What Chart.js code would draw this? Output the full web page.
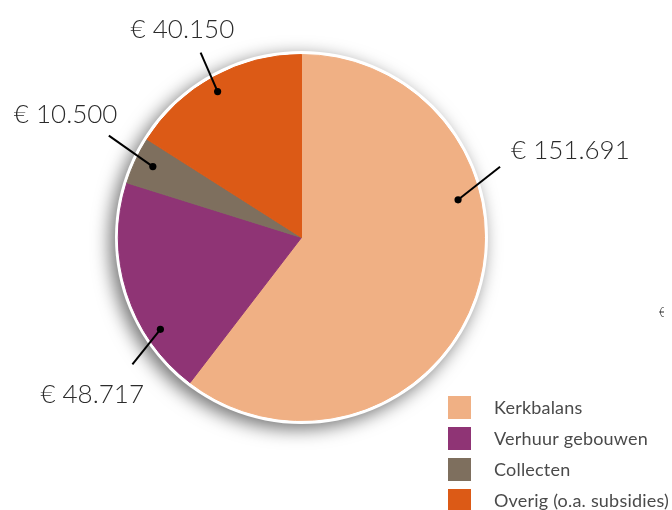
<!DOCTYPE html>
<html>
<head>
<meta charset="utf-8">
<script src="https://cdn.jsdelivr.net/npm/chart.js@4"></script>
<style>
  html, body { margin: 0; padding: 0; background: #ffffff; }
  #wrap { position: relative; width: 672px; height: 510px; }
</style>
</head>
<body>
<div id="wrap"><canvas id="c" width="672" height="510"></canvas></div>
<script>
const categories = ['Kerkbalans', 'Verhuur gebouwen', 'Collecten', 'Overig (o.a. subsidies)'];
const values = [151691, 48717, 10500, 40150];
const colors = ['#F0B084', '#8F3475', '#7E6F5E', '#DC5A16'];

function euro(v) {
  return '€ ' + String(v).replace(/\B(?=(\d{3})+(?!\d))/g, '.');
}

// layout of callouts: angle shift from slice middle (deg), radius fraction of dot,
// leader line vector from dot, text left offset / baseline offset from line end
const callouts = [
  { shift: -32.3, rf: 0.88, lx: 42, ly: -33, tx: 11, ty: -8 },
  { shift: -15.5, rf: 0.92, lx: -28, ly: 35, tx: -92, ty: 39 },
  { shift: 0.6, rf: 0.90, lx: -44, ly: -31, tx: -95, ty: -13 },
  { shift: -1.1, rf: 0.92, lx: -17, ly: -39, tx: -70, ty: -15 }
];

const ringPlugin = {
  id: 'ring',
  beforeDatasetsDraw(chart) {
    const arc = chart.getDatasetMeta(0).data[0];
    if (!arc) return;
    const ctx = chart.ctx;
    ctx.save();
    ctx.shadowColor = 'rgba(0,0,0,0.55)';
    ctx.shadowBlur = 18;
    ctx.shadowOffsetX = -5;
    ctx.shadowOffsetY = 5;
    ctx.fillStyle = '#ffffff';
    ctx.beginPath();
    ctx.arc(arc.x, arc.y, arc.outerRadius + 3.5, 0, Math.PI * 2);
    ctx.fill();
    ctx.restore();
  }
};

const calloutPlugin = {
  id: 'callouts',
  afterDatasetsDraw(chart) {
    const ctx = chart.ctx;
    const meta = chart.getDatasetMeta(0);
    const data = chart.data.datasets[0].data;
    ctx.save();
    meta.data.forEach((arc, i) => {
      const c = callouts[i];
      const mid = (arc.startAngle + arc.endAngle) / 2 + c.shift * Math.PI / 180;
      const dx = arc.x + Math.cos(mid) * arc.outerRadius * c.rf;
      const dy = arc.y + Math.sin(mid) * arc.outerRadius * c.rf;
      const ex = dx + c.lx, ey = dy + c.ly;
      ctx.strokeStyle = '#000000';
      ctx.lineWidth = 2;
      ctx.beginPath();
      ctx.moveTo(dx, dy);
      ctx.lineTo(ex, ey);
      ctx.stroke();
      ctx.fillStyle = '#000000';
      ctx.beginPath();
      ctx.arc(dx, dy, 3.6, 0, Math.PI * 2);
      ctx.fill();
      ctx.fillStyle = '#2b2b2b';
      ctx.font = '300 26px Lato, "Open Sans", sans-serif';
      ctx.textAlign = 'left';
      ctx.textBaseline = 'alphabetic';
      ctx.fillText(euro(data[i]), ex + c.tx, ey + c.ty);
    });
    // legend
    const labels = chart.data.labels;
    const bg = chart.data.datasets[0].backgroundColor;
    labels.forEach((lab, i) => {
      const y = 396 + i * 31;
      ctx.fillStyle = bg[i];
      ctx.fillRect(448, y, 23, 23);
      ctx.fillStyle = '#4a4a4a';
      ctx.font = '400 18px Lato, "Open Sans", sans-serif';
      ctx.letterSpacing = '0.2px';
      ctx.textBaseline = 'middle';
      ctx.fillText(lab, 494, y + 12);
    });
    ctx.letterSpacing = '0px';
    // fragment of a neighbouring label at the right edge
    ctx.beginPath();
    ctx.rect(0, 0, 664, 510);
    ctx.clip();
    ctx.fillStyle = '#2b2b2b';
    ctx.font = '300 13px Lato, sans-serif';
    ctx.textBaseline = 'middle';
    ctx.fillText('€', 659, 313);
    ctx.restore();
  }
};

new Chart(document.getElementById('c'), {
  type: 'pie',
  data: {
    labels: categories,
    datasets: [{
      data: values,
      backgroundColor: colors,
      borderColor: colors,
      borderWidth: 1,
      radius: 183
    }]
  },
  options: {
    responsive: false,
    animation: false,
    layout: { padding: { left: 100, right: 169, top: 20, bottom: 55 } },
    plugins: {
      legend: { display: false },
      tooltip: { enabled: false }
    }
  },
  plugins: [ringPlugin, calloutPlugin]
});
</script>
</body>
</html>
